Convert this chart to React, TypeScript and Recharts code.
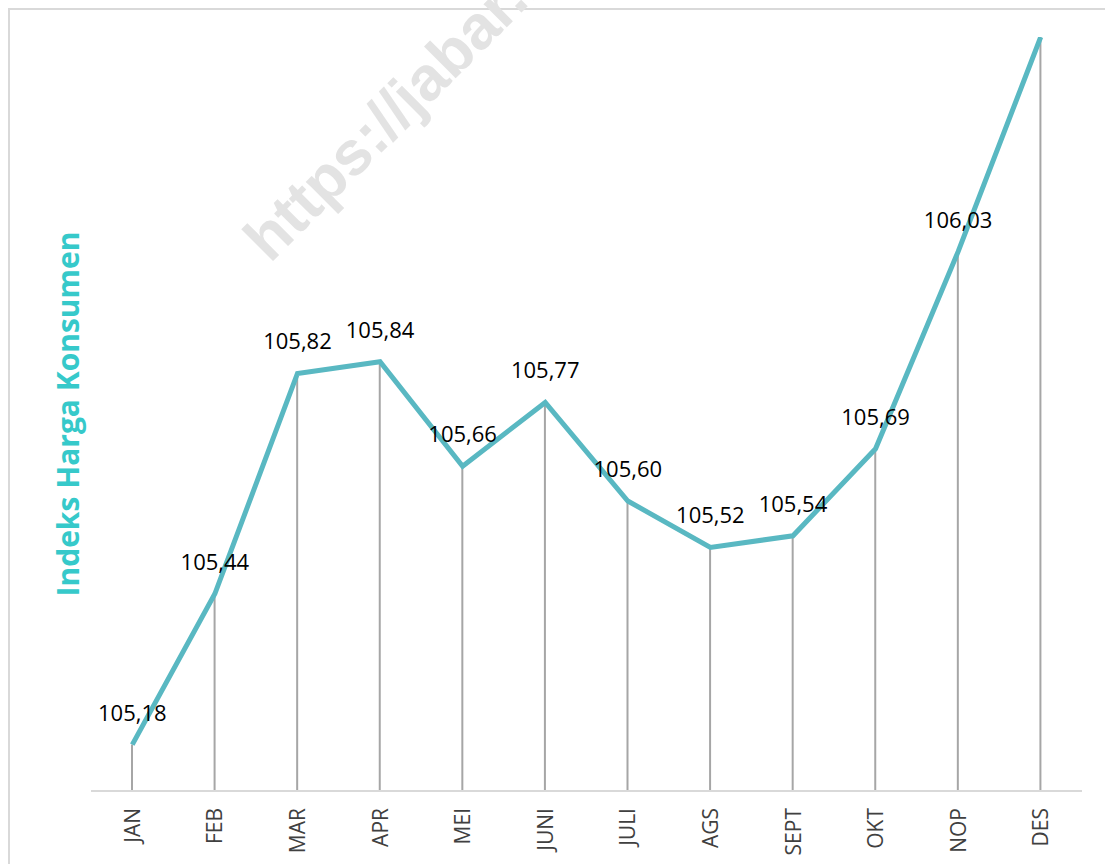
import { ComposedChart, Line, Bar, XAxis, YAxis } from "recharts";

const bulan = ["JAN", "FEB", "MAR", "APR", "MEI", "JUNI", "JULI", "AGS", "SEPT", "OKT", "NOP", "DES"];
const ihk = [105.18, 105.44, 105.82, 105.84, 105.66, 105.77, 105.6, 105.52, 105.54, 105.69, 106.03, 106.4];
const yDomain = [105.1, 106.4];
const judulSumbuY = "Indeks Harga Konsumen";
const watermark = "https://jabar.bps.go.id";

const data = bulan.map((b, i) => ({ bulan: b, ihk: ihk[i] }));

const fmt = (v: number) => v.toFixed(2).replace(".", ",");

const MonthTick = (props: any) => {
  const { x, y, payload } = props;
  return (
    <text
      x={x}
      y={y}
      dy="0.36em"
      transform={`rotate(-90, ${x}, ${y})`}
      textAnchor="end"
      fill="#404040"
      fontSize={21}
      fontFamily="'Open Sans', sans-serif"
    >
      {payload.value}
    </text>
  );
};

const ValueLabel = (props: any) => {
  const { x, y, value, index } = props;
  // label DES tidak tampak (terpotong di atas)
  if (index === bulan.length - 1) return null;
  return (
    <text
      x={x}
      y={y - 24}
      textAnchor="middle"
      fill="#000"
      fontSize={22}
      fontFamily="'Open Sans', sans-serif"
    >
      {fmt(value)}
    </text>
  );
};

export default function App() {
  return (
    <div
      style={{
        position: "fixed",
        left: 0,
        top: 0,
        width: 1105,
        height: 864,
        overflow: "hidden",
        background: "#fff",
      }}
    >
      <div
        style={{
          position: "absolute",
          left: 8,
          top: 8,
          width: 1200,
          height: 1000,
          border: "2px solid #D9D9D9",
        }}
      />
      <svg width={1105} height={864} style={{ position: "absolute", left: 0, top: 0 }}>
        <text
          x={270}
          y={264}
          transform="rotate(-45, 270, 264)"
          fill="#E3E3E3"
          fontSize={62}
          fontWeight="bold"
          fontFamily="'Liberation Sans', Arial, sans-serif"
        >
          {watermark}
        </text>
      </svg>
      <div style={{ position: "absolute", left: 0, top: 0 }}>
        <ComposedChart
          width={1105}
          height={864}
          data={data}
          margin={{ top: 37, right: 23, left: 45, bottom: 0 }}
        >
          <XAxis
            dataKey="bulan"
            height={73}
            tickLine={false}
            tickSize={0}
            tickMargin={17}
            axisLine={{ stroke: "#D9D9D9", strokeWidth: 2 }}
            tick={<MonthTick />}
            interval={0}
          />
          <YAxis
            type="number"
            domain={yDomain}
            allowDataOverflow
            width={46}
            tick={false}
            tickLine={false}
            axisLine={false}
            label={{
              value: judulSumbuY,
              angle: -90,
              position: "center",
              fill: "#36C9CA",
              fontSize: 30,
              fontWeight: "bold",
              fontFamily: "'Open Sans', sans-serif",
            }}
          />
          <Bar dataKey="ihk" barSize={2} fill="#A6A6A6" isAnimationActive={false} />
          <Line
            dataKey="ihk"
            type="linear"
            stroke="#59B8C2"
            strokeWidth={5}
            dot={false}
            activeDot={false}
            label={<ValueLabel />}
            isAnimationActive={false}
          />
        </ComposedChart>
      </div>
    </div>
  );
}
